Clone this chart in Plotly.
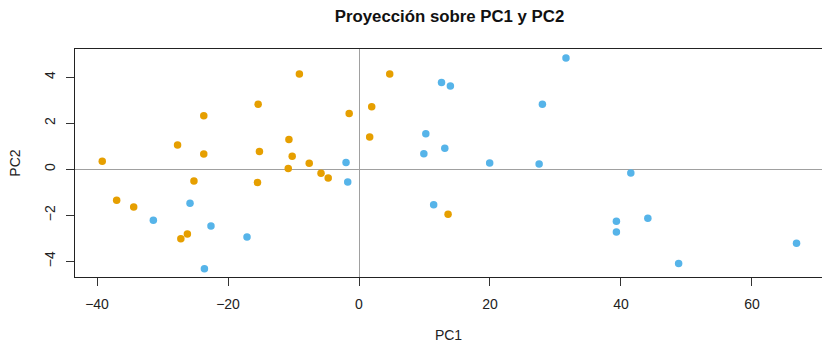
import plotly.graph_objects as go

# Group 1 (orange)
pc1_a = [-39.2, -37.0, -34.4, -27.7, -23.7, -23.7, -25.2, -27.2, -26.2, -15.4, -15.2, -15.5,
         -9.1, -10.7, -10.2, -10.8, -7.6, -5.8, -4.7, -1.5, 1.94, 1.63, 4.69, 13.6]
pc2_a = [0.35, -1.35, -1.64, 1.06, 2.33, 0.67, -0.51, -3.02, -2.81, 2.83, 0.77, -0.57,
         4.14, 1.30, 0.57, 0.03, 0.26, -0.17, -0.38, 2.43, 2.72, 1.40, 4.14, -1.96]

# Group 2 (blue)
pc1_b = [-31.4, -25.8, -22.6, -23.6, -17.1, -1.98, -1.72, 12.6, 13.95, 31.6, 28.0, 10.2,
         9.9, 13.1, 19.95, 27.5, 11.4, 41.5, 39.3, 39.3, 44.1, 48.8, 66.8]
pc2_b = [-2.22, -1.48, -2.47, -4.32, -2.94, 0.30, -0.55, 3.77, 3.62, 4.84, 2.83, 1.55,
         0.68, 0.91, 0.27, 0.23, -1.54, -0.16, -2.26, -2.73, -2.13, -4.10, -3.22]

x_ticks = [-40, -20, 0, 20, 40, 60]
y_ticks = [-4, -2, 0, 2, 4]

FONT = "Liberation Sans, Arial, sans-serif"

fig = go.Figure()
fig.add_trace(go.Scatter(x=pc1_a, y=pc2_a, mode="markers",
                         marker=dict(color="#E69F00", size=7.5, line=dict(width=0)),
                         showlegend=False, hoverinfo="skip"))
fig.add_trace(go.Scatter(x=pc1_b, y=pc2_b, mode="markers",
                         marker=dict(color="#56B4E9", size=7.5, line=dict(width=0)),
                         showlegend=False, hoverinfo="skip"))

fig.update_layout(
    width=822, height=343, autosize=False,
    margin=dict(l=75, r=0, t=49, b=66, pad=0),
    paper_bgcolor="white", plot_bgcolor="white",
    font=dict(family=FONT, size=14, color="#222222"),
    title=dict(text="Proyección sobre PC1 y PC2", x=0.5469, xanchor="center",
               y=1 - 16 / 343, yanchor="middle", yref="container",
               font=dict(family=FONT, size=16.8, color="#111111", weight="bold")),
    xaxis=dict(range=[-43.36, 70.69], tickmode="array", tickvals=x_ticks,
               ticktext=["\u221240", "\u221220", "0", "20", "40", "60"],
               ticks="outside", ticklen=8, tickcolor="#333333", tickwidth=1,
               showline=True, linecolor="#222222", linewidth=1, mirror=True,
               showgrid=False, zeroline=True, zerolinecolor="#A0A0A0", zerolinewidth=1,
               ticklabelstandoff=6,
               title=dict(text="PC1", standoff=22, font=dict(size=14)),
               fixedrange=True),
    yaxis=dict(range=[-4.683, 5.23], tickmode="array", tickvals=y_ticks,
               ticktext=["\u22124", "\u22122", "0", "2", "4"],
               tickangle=-90,
               ticks="outside", ticklen=8, tickcolor="#333333", tickwidth=1,
               showline=True, linecolor="#222222", linewidth=1, mirror=False,
               showgrid=False, zeroline=True, zerolinecolor="#A0A0A0", zerolinewidth=1,
               ticklabelstandoff=5,
               title=dict(text="PC2", standoff=18, font=dict(size=14)),
               fixedrange=True),
)

fig.write_html("out.html", config={"displayModeBar": False})
